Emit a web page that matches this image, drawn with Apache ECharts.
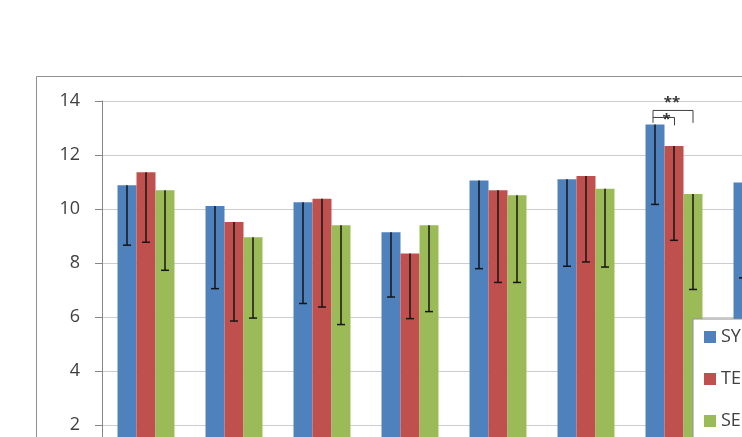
<!DOCTYPE html>
<html><head><meta charset="utf-8">
<script src="https://cdn.jsdelivr.net/npm/echarts@6/dist/echarts.min.js"></script>
<style>html,body{margin:0;padding:0;overflow:hidden;background:#fff;width:742px;height:437px}#c{width:880px;height:540px}</style>
</head><body><div id="c"></div>
<script>
// ---- data ----
const categories = ['1', '2', '3', '4', '5', '6', '7', '8'];
const seriesNames = ['SYN', 'TEN', 'SEN'];
const blueValues  = [10.88, 10.11, 10.25, 9.14, 11.06, 11.10, 13.13, 10.98];
const redValues   = [11.36, 9.52, 10.38, 8.35, 10.69, 11.22, 12.33, 10.80];
const greenValues = [10.69, 8.95, 9.40, 9.40, 10.51, 10.75, 10.56, 10.40];
const blueLow  = [8.66, 7.05, 6.50, 6.74, 7.79, 7.88, 10.17, 7.45];
const redLow   = [8.77, 5.85, 6.37, 5.94, 7.28, 8.04, 8.84, 7.90];
const greenLow = [7.73, 5.96, 5.72, 6.20, 7.28, 7.85, 7.02, 7.50];
const yTicks = [0, 2, 4, 6, 8, 10, 12, 14];
// significance annotation (category index, levels)
const sigCategory = 6;
const sigOuter = [13.65, 13.19];  // bracket level, leg end
const sigInner = [13.39, 13.10];
const sigLabels = ['**', '*'];
const sigLabelLevels = [13.95, 13.32];

const colors = ['#4F81BD', '#C0504D', '#9BBB59'];
const BAR_W = 19;
const font = '"Open Sans", "Liberation Sans", sans-serif';

const chart = echarts.init(document.getElementById('c'), null, {renderer: 'canvas'});

function errSeries(idx, values, lows) {
  return {
    type: 'custom', name: 'err' + idx, z: 3,
    encode: {x: 0, y: [1, 2]},
    data: values.map((v, i) => [i, v, lows[i]]),
    renderItem(params, api) {
      const top = api.coord([api.value(0), api.value(1)]);
      const low = api.coord([api.value(0), api.value(2)]);
      const x = top[0] + (idx - 1) * BAR_W;
      const st = {stroke: '#151515', lineWidth: 1.5};
      return {type: 'group', children: [
        {type: 'line', shape: {x1: x, y1: top[1], x2: x, y2: low[1]}, style: st},
        {type: 'line', shape: {x1: x - 4, y1: low[1], x2: x + 4, y2: low[1]}, style: st}
      ]};
    }
  };
}

const sigSeries = {
  type: 'custom', name: 'sig', z: 4,
  encode: {x: 0, y: 1},
  data: [[sigCategory, sigOuter[0]]],
  renderItem(params, api) {
    const c = api.coord([api.value(0), sigOuter[0]]);
    const cx = c[0];
    const y = v => api.coord([api.value(0), v])[1];
    const xL = cx - BAR_W - 2, xR = cx + BAR_W, xI = cx + 0.5;
    const st = {stroke: '#404040', lineWidth: 1, fill: null};
    return {type: 'group', children: [
      {type: 'polyline', shape: {points: [[xL, y(sigOuter[1])], [xL, y(sigOuter[0])], [xR, y(sigOuter[0])], [xR, y(sigOuter[1])]]}, style: st},
      {type: 'polyline', shape: {points: [[xL, y(sigInner[0])], [xI, y(sigInner[0])], [xI, y(sigInner[1])]]}, style: st},
      {type: 'text', x: cx - 2, y: y(sigLabelLevels[0]), style: {text: sigLabels[0], textAlign: 'center', textVerticalAlign: 'middle', font: 'bold 15px ' + font, fill: '#333'}},
      {type: 'text', x: cx - 7.5, y: y(sigLabelLevels[1]), style: {text: sigLabels[1], textAlign: 'center', textVerticalAlign: 'middle', font: 'bold 15px ' + font, fill: '#333'}}
    ]};
  }
};

const option = {
  animation: false,
  backgroundColor: '#fff',
  graphic: [{
    type: 'rect', left: 36, top: 76, z: -10,
    shape: {width: 900, height: 600},
    style: {fill: '#fff', stroke: '#8f8f8f', lineWidth: 1}
  }],
  grid: {left: 102, top: 101, width: 704, height: 378, outerBoundsMode: 'none', containLabel: false},
  legend: {
    orient: 'vertical', left: 693, top: 319,
    data: seriesNames,
    icon: 'rect', itemWidth: 12, itemHeight: 12, itemGap: 22,
    padding: [8, 40, 8, 11],
    backgroundColor: '#fff', borderColor: '#8f8f8f', borderWidth: 1,
    textStyle: {fontSize: 18, color: '#404040', fontFamily: font, lineHeight: 20}
  },
  xAxis: {
    type: 'category', data: categories,
    axisLine: {lineStyle: {color: '#868686'}},
    axisTick: {show: false},
    axisLabel: {fontSize: 18, color: '#404040', fontFamily: font}
  },
  yAxis: {
    type: 'value', min: yTicks[0], max: yTicks[yTicks.length - 1], interval: 2,
    axisLine: {show: true, lineStyle: {color: '#868686', width: 1}},
    axisTick: {show: true, length: 7, lineStyle: {color: '#868686'}},
    axisLabel: {fontSize: 18, color: '#404040', fontFamily: font, margin: 22},
    splitLine: {lineStyle: {color: '#cdcdcd', width: 1}}
  },
  series: [
    {type: 'bar', name: seriesNames[0], data: blueValues, barWidth: BAR_W, barGap: '0%', itemStyle: {color: colors[0]}, z: 2},
    {type: 'bar', name: seriesNames[1], data: redValues, barWidth: BAR_W, barGap: '0%', itemStyle: {color: colors[1]}, z: 2},
    {type: 'bar', name: seriesNames[2], data: greenValues, barWidth: BAR_W, barGap: '0%', itemStyle: {color: colors[2]}, z: 2},
    errSeries(0, blueValues, blueLow),
    errSeries(1, redValues, redLow),
    errSeries(2, greenValues, greenLow),
    sigSeries
  ]
};
chart.setOption(option);
</script>
</body></html>
